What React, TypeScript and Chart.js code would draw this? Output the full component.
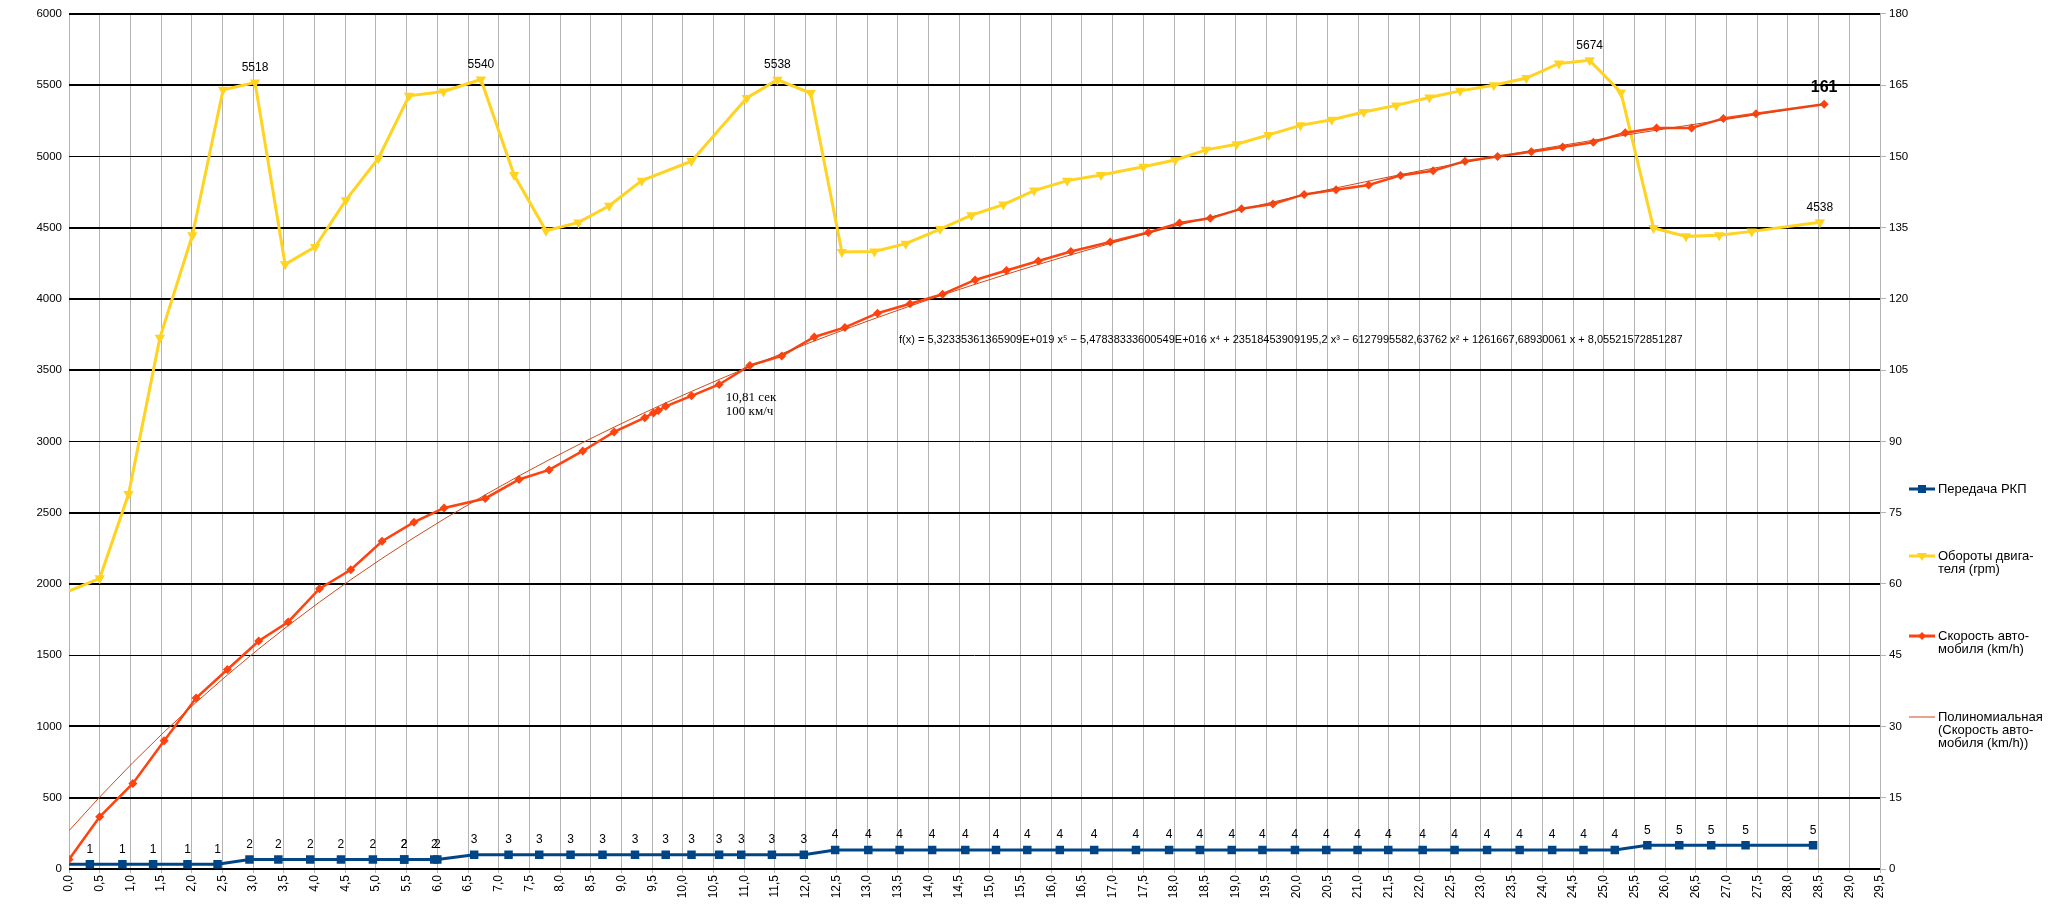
import React, { useEffect, useRef } from 'react';
import { Chart, registerables } from 'chart.js';

Chart.register(...registerables);

// ---- Data (time in seconds) ----
const gearTime = [0, 0.34, 0.87, 1.37, 1.93, 2.42, 2.94, 3.41, 3.93, 4.43, 4.95, 5.46, 5.46, 5.95, 6.0, 6.6, 7.16, 7.66, 8.17, 8.69, 9.22, 9.72, 10.14, 10.59, 10.95, 11.45, 11.97, 12.48, 13.02, 13.53, 14.06, 14.6, 15.1, 15.61, 16.14, 16.7, 17.38, 17.92, 18.42, 18.94, 19.44, 19.97, 20.48, 20.99, 21.49, 22.05, 22.57, 23.1, 23.63, 24.16, 24.67, 25.18, 25.71, 26.23, 26.75, 27.31, 28.41];
const gear = [1, 1, 1, 1, 1, 1, 2, 2, 2, 2, 2, 2, 2, 2, 2, 3, 3, 3, 3, 3, 3, 3, 3, 3, 3, 3, 3, 4, 4, 4, 4, 4, 4, 4, 4, 4, 4, 4, 4, 4, 4, 4, 4, 4, 4, 4, 4, 4, 4, 4, 4, 4, 5, 5, 5, 5, 5];

const rpmTime = [0, 0.5, 0.97, 1.48, 2.01, 2.51, 3.03, 3.52, 4.01, 4.51, 5.04, 5.54, 6.1, 6.71, 7.25, 7.77, 8.3, 8.8, 9.33, 10.14, 11.04, 11.54, 12.08, 12.59, 13.12, 13.63, 14.19, 14.7, 15.22, 15.72, 16.26, 16.81, 17.5, 18.02, 18.52, 19.02, 19.54, 20.06, 20.57, 21.09, 21.62, 22.16, 22.66, 23.21, 23.74, 24.27, 24.77, 25.28, 25.81, 26.34, 26.88, 27.41, 28.52];
const rpm = [1950, 2040, 2631, 3727, 4447, 5468, 5518, 4243, 4365, 4693, 4987, 5425, 5456, 5540, 4869, 4478, 4537, 4654, 4830, 4967, 5410, 5538, 5445, 4329, 4333, 4388, 4490, 4588, 4662, 4760, 4830, 4869, 4928, 4975, 5046, 5085, 5151, 5218, 5257, 5312, 5358, 5413, 5460, 5499, 5550, 5652, 5674, 5449, 4498, 4439, 4447, 4474, 4538];
const rpmLabelIndex = [6, 13, 21, 46, 52];

const speedTime = [0, 0.5, 1.04, 1.55, 2.07, 2.58, 3.09, 3.57, 4.08, 4.59, 5.1, 5.62, 6.11, 6.78, 7.33, 7.82, 8.37, 8.88, 9.38, 9.52, 9.6, 9.72, 10.14, 10.59, 11.09, 11.61, 12.14, 12.64, 13.17, 13.7, 14.23, 14.76, 15.27, 15.79, 16.32, 16.96, 17.58, 18.09, 18.59, 19.1, 19.61, 20.12, 20.64, 21.17, 21.69, 22.22, 22.74, 23.27, 23.82, 24.33, 24.83, 25.35, 25.86, 26.43, 26.95, 27.48, 28.59];
const speedKmh = [2, 11, 18, 27, 36, 42, 48, 52, 59, 63, 69, 73, 76, 78, 82, 84, 88, 92, 95, 96, 96.5, 97.4, 99.6, 102, 106, 108, 112, 114, 117, 119, 121, 124, 126, 128, 130, 132, 134, 136, 137, 139, 140, 142, 143, 144, 146, 147, 149, 150, 151, 152, 153, 155, 156, 156, 158, 159, 161];

// Polynomial trend line coefficients as printed on the chart (x in days), c0..c5
const trendCoefficients = [8.05521572851287, 1261667.68930061, -6127995582.63762, 23518453909195.2, -5.47838333600549e16, 5.32335361365909e19];
const trendEquation = 'f(x) = 5,32335361365909E+019 x⁵ − 5,47838333600549E+016 x⁴ + 23518453909195,2 x³ − 6127995582,63762 x² + 1261667,68930061 x + 8,05521572851287';

const legendLabels = [
  ['Передача РКП'],
  ['Обороты двига-', 'теля (rpm)'],
  ['Скорость авто-', 'мобиля (km/h)'],
  ['Полиномиальная', '(Скорость авто-', 'мобиля (km/h))'],
];
const annotationLines = ['10,81 сек', '100 км/ч'];

const COLORS = { gear: '#004586', rpm: '#ffd320', speed: '#ff420e', trend: '#cc4b1c' };
const FONT = '"Liberation Sans", Arial, sans-serif';
const thinGrid = [5000, 3000, 1500];

function trendAt(t: number) {
  const d = t / 86400;
  let s = 0;
  for (let k = trendCoefficients.length - 1; k >= 0; k--) s = s * d + trendCoefficients[k];
  return s;
}

function drawMarker(ctx: CanvasRenderingContext2D, kind: string, x: number, y: number, color: string) {
  ctx.fillStyle = color;
  ctx.beginPath();
  if (kind === 'rect') {
    ctx.rect(x - 4, y - 4, 8, 8);
  } else if (kind === 'tri') {
    ctx.moveTo(x - 5, y - 3);
    ctx.lineTo(x + 5, y - 3);
    ctx.lineTo(x, y + 5);
    ctx.closePath();
  } else if (kind === 'dia') {
    ctx.moveTo(x, y - 4);
    ctx.lineTo(x + 4, y);
    ctx.lineTo(x, y + 4);
    ctx.lineTo(x - 4, y);
    ctx.closePath();
  }
  ctx.fill();
}

const overlayPlugin = {
  id: 'overlay',
  afterDatasetsDraw(chart: any) {
    const ctx: CanvasRenderingContext2D = chart.ctx;
    ctx.save();
    ctx.fillStyle = '#000';
    ctx.textAlign = 'center';
    ctx.textBaseline = 'middle';

    // gear labels
    ctx.font = `12px ${FONT}`;
    const gMeta = chart.getDatasetMeta(0);
    gear.forEach((g, i) => {
      if (i === 0) return;
      const p = gMeta.data[i];
      ctx.fillText(String(g), p.x, p.y - 15);
    });
    // rpm labels
    const rMeta = chart.getDatasetMeta(1);
    rpmLabelIndex.forEach((i) => {
      const p = rMeta.data[i];
      ctx.fillText(String(rpm[i]), p.x, p.y - 15);
    });
    // last speed label
    const sMeta = chart.getDatasetMeta(2);
    const last = speedKmh.length - 1;
    ctx.font = `bold 16px ${FONT}`;
    ctx.fillText(String(speedKmh[last]), sMeta.data[last].x, sMeta.data[last].y - 17);

    const xs = chart.scales.x;
    const ys = chart.scales.y1;
    // annotation
    ctx.textAlign = 'left';
    ctx.font = `13px "Liberation Serif", "DejaVu Serif", serif`;
    ctx.fillText(annotationLines[0], xs.getPixelForValue(10.7), ys.getPixelForValue(99.2));
    ctx.fillText(annotationLines[1], xs.getPixelForValue(10.7), ys.getPixelForValue(96.2));
    // equation
    ctx.font = `11px ${FONT}`;
    ctx.fillText(trendEquation, xs.getPixelForValue(13.52), ys.getPixelForValue(111.45));

    // legend
    const lx = chart.chartArea.right + 29;
    const tx = chart.chartArea.right + 58;
    const rows = [489, 556, 636, 717];
    const styles = [
      { c: COLORS.gear, w: 3, m: 'rect' },
      { c: COLORS.rpm, w: 3, m: 'tri' },
      { c: COLORS.speed, w: 3, m: 'dia' },
      { c: COLORS.trend, w: 1, m: '' },
    ];
    ctx.font = `13px ${FONT}`;
    legendLabels.forEach((lines, k) => {
      const y = rows[k];
      const st = styles[k];
      ctx.strokeStyle = st.c;
      ctx.lineWidth = st.w;
      ctx.beginPath();
      ctx.moveTo(lx, y);
      ctx.lineTo(lx + 26, y);
      ctx.stroke();
      if (st.m) drawMarker(ctx, st.m, lx + 13, y, st.c);
      ctx.fillStyle = '#000';
      lines.forEach((s, j) => ctx.fillText(s, tx, y + j * 13.3));
    });
    ctx.restore();
  },
};

export default function App() {
  const ref = useRef<HTMLCanvasElement>(null);
  useEffect(() => {
    const trendData = speedTime.map((t) => ({ x: t, y: trendAt(t) }));
    const chart = new Chart(ref.current as HTMLCanvasElement, {
      type: 'line',
      data: {
        datasets: [
          {
            label: legendLabels[0].join(' '),
            data: gearTime.map((t, i) => ({ x: t, y: gear[i] })),
            yAxisID: 'y1',
            borderColor: COLORS.gear,
            backgroundColor: COLORS.gear,
            borderWidth: 3,
            pointStyle: 'rect',
            pointRadius: (c: any) => (c.dataIndex === 0 ? 0 : 6),
            pointBorderWidth: 0,
            tension: 0,
            order: 4,
          },
          {
            label: legendLabels[1].join(''),
            data: rpmTime.map((t, i) => ({ x: t, y: rpm[i] })),
            yAxisID: 'y',
            borderColor: COLORS.rpm,
            backgroundColor: COLORS.rpm,
            borderWidth: 3,
            pointStyle: 'triangle',
            pointRotation: 180,
            pointRadius: (c: any) => (c.dataIndex === 0 ? 0 : 6),
            pointBorderWidth: 0,
            tension: 0,
            order: 3,
          },
          {
            label: legendLabels[2].join(''),
            data: speedTime.map((t, i) => ({ x: t, y: speedKmh[i] })),
            yAxisID: 'y1',
            borderColor: COLORS.speed,
            backgroundColor: COLORS.speed,
            borderWidth: 2.5,
            pointStyle: 'rectRot',
            pointRadius: 4.5,
            pointBorderWidth: 0,
            tension: 0,
            order: 2,
          },
          {
            label: legendLabels[3].join(''),
            data: trendData,
            yAxisID: 'y1',
            borderColor: COLORS.trend,
            backgroundColor: COLORS.trend,
            borderWidth: 1,
            pointRadius: 0,
            tension: 0,
            order: 1,
          },
        ],
      },
      options: {
        responsive: false,
        animation: false,
        devicePixelRatio: 1,
        layout: { padding: { top: 9, left: 0, right: 0, bottom: 0 } },
        plugins: { legend: { display: false }, tooltip: { enabled: false } },
        scales: {
          x: {
            type: 'linear',
            min: 0,
            max: 29.5,
            ticks: {
              stepSize: 0.5,
              autoSkip: false,
              minRotation: 90,
              maxRotation: 90,
              padding: 2,
              color: '#000',
              font: { family: FONT, size: 12 },
              callback: (v: any) => Number(v).toFixed(1).replace('.', ','),
            },
            grid: { color: '#b3b3b3', lineWidth: 1, tickLength: 4 },
            border: { display: false },
            afterFit: (s: any) => {
              s.height = 46;
            },
          },
          y: {
            position: 'left',
            min: 0,
            max: 6000,
            ticks: {
              stepSize: 500,
              padding: 7,
              color: '#000',
              font: { family: FONT, size: 11.5 },
              callback: (v: any) => String(v),
            },
            grid: {
              color: '#000',
              lineWidth: (c: any) => (thinGrid.includes(c.tick?.value) ? 1 : 2),
              drawTicks: false,
            },
            border: { display: false },
            afterFit: (s: any) => {
              s.width = 69;
            },
          },
          y1: {
            position: 'right',
            min: 0,
            max: 180,
            ticks: {
              stepSize: 15,
              padding: 3,
              color: '#000',
              font: { family: FONT, size: 11.5 },
              callback: (v: any) => String(v),
            },
            grid: { drawOnChartArea: false, color: '#b3b3b3', tickLength: 6 },
            border: { display: false },
            afterFit: (s: any) => {
              s.width = 169;
            },
          },
        },
      } as any,
      plugins: [overlayPlugin],
    });
    return () => chart.destroy();
  }, []);
  return (
    <div style={{ position: 'absolute', left: 0, top: 0, width: 2049, height: 915, background: '#fff' }}>
      <canvas ref={ref} width={2049} height={915} style={{ width: 2049, height: 915, display: 'block' }} />
    </div>
  );
}
